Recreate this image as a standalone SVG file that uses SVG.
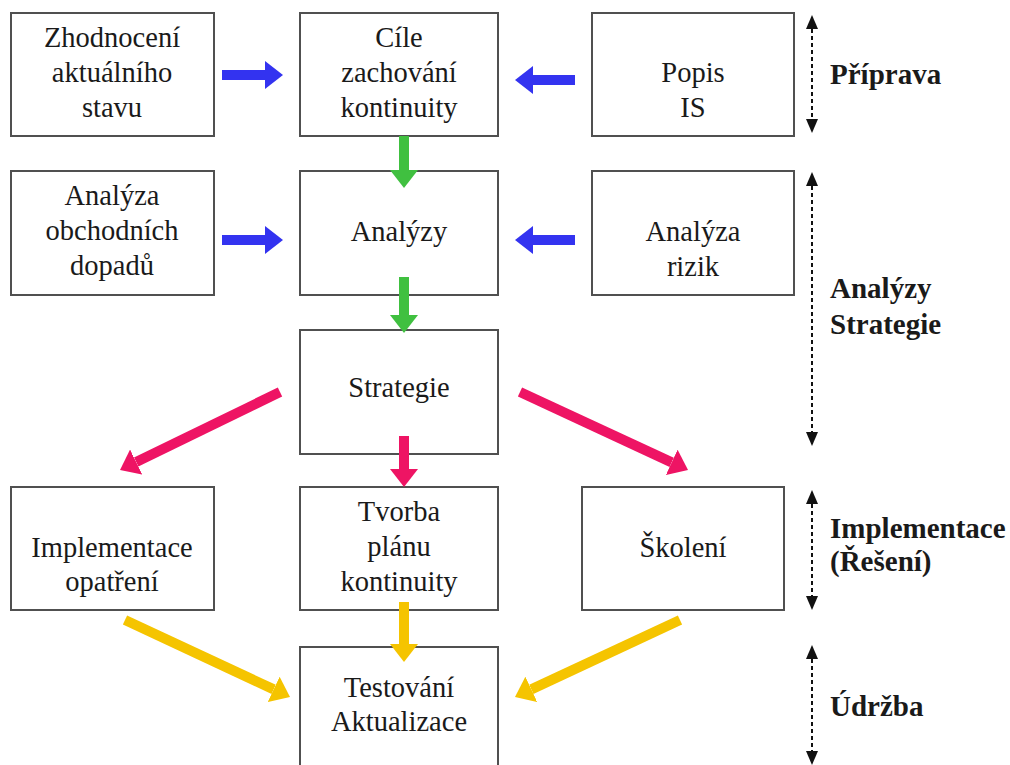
<svg xmlns="http://www.w3.org/2000/svg" width="1010" height="765" viewBox="0 0 1010 765">
<style>
.box{fill:#fff;stroke:#505050;stroke-width:2}
.t{font-family:"Liberation Serif",Tinos,"Times New Roman","DejaVu Serif",serif;font-size:28.5px;fill:#1a1a1a;text-anchor:middle}
.lbl{font-family:"Liberation Serif",Tinos,"Times New Roman","DejaVu Serif",serif;font-size:29px;font-weight:bold;fill:#1a1a1a}
.blue{stroke:#3333f0;stroke-width:10;fill:none}
.green{stroke:#40c040;stroke-width:10;fill:none}
.red{stroke:#ee1464;stroke-width:10;fill:none}
.yel{stroke:#f5c400;stroke-width:10;fill:none}
.dash{stroke:#111;stroke-width:2;stroke-dasharray:4 3;fill:none}
</style>
<defs>
<marker id="hb" markerUnits="userSpaceOnUse" markerWidth="18" markerHeight="28" refX="0" refY="14" orient="auto"><path d="M0,0 L18,14 L0,28 z" fill="#3333f0"/></marker>
<marker id="hg" markerUnits="userSpaceOnUse" markerWidth="18" markerHeight="28" refX="0" refY="14" orient="auto"><path d="M0,0 L18,14 L0,28 z" fill="#40c040"/></marker>
<marker id="hr" markerUnits="userSpaceOnUse" markerWidth="18" markerHeight="28" refX="0" refY="14" orient="auto"><path d="M0,0 L18,14 L0,28 z" fill="#ee1464"/></marker>
<marker id="hy" markerUnits="userSpaceOnUse" markerWidth="18" markerHeight="28" refX="0" refY="14" orient="auto"><path d="M0,0 L18,14 L0,28 z" fill="#f5c400"/></marker>
<marker id="hk" markerUnits="userSpaceOnUse" markerWidth="14" markerHeight="12" refX="0" refY="6" orient="auto-start-reverse"><path d="M0,0 L14,6 L0,12 z" fill="#111"/></marker>
</defs>
<rect width="1010" height="765" fill="#fff"/>

<g id="zhodnoceni"><rect class="box" x="11" y="13" width="203" height="123"/>
<text class="t" x="112" y="47">Zhodnocení</text><text class="t" x="112" y="82">aktuálního</text><text class="t" x="112" y="117">stavu</text></g>
<g id="cile"><rect class="box" x="300" y="13" width="198" height="123"/>
<text class="t" x="399" y="47">Cíle</text><text class="t" x="399" y="82">zachování</text><text class="t" x="399" y="117">kontinuity</text></g>
<g id="popis"><rect class="box" x="592" y="13" width="202" height="123"/>
<text class="t" x="693" y="82">Popis</text><text class="t" x="693" y="117">IS</text></g>

<g id="analyza-obchodnich"><rect class="box" x="11" y="171" width="203" height="124"/>
<text class="t" x="112" y="205">Analýza</text><text class="t" x="112" y="240">obchodních</text><text class="t" x="112" y="275">dopadů</text></g>
<g id="analyzy"><rect class="box" x="300" y="171" width="198" height="124"/>
<text class="t" x="399" y="241">Analýzy</text></g>
<g id="analyza-rizik"><rect class="box" x="592" y="171" width="202" height="124"/>
<text class="t" x="693" y="241">Analýza</text><text class="t" x="693" y="276">rizik</text></g>

<g id="strategie"><rect class="box" x="300" y="330" width="198" height="124"/>
<text class="t" x="399" y="397">Strategie</text></g>

<g id="implementace"><rect class="box" x="11" y="487" width="203" height="123"/>
<text class="t" x="112" y="557">Implementace</text><text class="t" x="112" y="591">opatření</text></g>
<g id="tvorba"><rect class="box" x="300" y="487" width="198" height="123"/>
<text class="t" x="399" y="521">Tvorba</text><text class="t" x="399" y="556">plánu</text><text class="t" x="399" y="591">kontinuity</text></g>
<g id="skoleni"><rect class="box" x="582" y="487" width="202" height="123"/>
<text class="t" x="683" y="557">Školení</text></g>

<g id="testovani"><rect class="box" x="300" y="647" width="198" height="130"/>
<text class="t" x="399" y="697">Testování</text><text class="t" x="399" y="731">Aktualizace</text></g>

<g id="phases">
<text class="lbl" x="830" y="84">Příprava</text>
<text class="lbl" x="830" y="298">Analýzy</text>
<text class="lbl" x="830" y="334">Strategie</text>
<text class="lbl" x="830" y="538">Implementace</text>
<text class="lbl" x="830" y="571">(Řešení)</text>
<text class="lbl" x="830" y="716">Údržba</text>
</g>

<g id="connectors">
<line class="blue" x1="222" y1="75" x2="265" y2="75" marker-end="url(#hb)"/>
<line class="blue" x1="575" y1="80" x2="533" y2="80" marker-end="url(#hb)"/>
<line class="blue" x1="222" y1="240" x2="265" y2="240" marker-end="url(#hb)"/>
<line class="blue" x1="575" y1="240" x2="533" y2="240" marker-end="url(#hb)"/>
<line class="green" x1="404" y1="136" x2="404" y2="170" marker-end="url(#hg)"/>
<line class="green" x1="404" y1="277" x2="404" y2="315" marker-end="url(#hg)"/>
<line class="red" x1="404" y1="436" x2="404" y2="469" marker-end="url(#hr)"/>
<line class="red" x1="280" y1="392" x2="136.2" y2="462.1" marker-end="url(#hr)"/>
<line class="red" x1="520" y1="392" x2="671.7" y2="462.4" marker-end="url(#hr)"/>
<line class="yel" x1="404" y1="602" x2="404" y2="644" marker-end="url(#hy)"/>
<line class="yel" x1="125" y1="620" x2="273.7" y2="689.4" marker-end="url(#hy)"/>
<line class="yel" x1="680" y1="620" x2="531.3" y2="689.4" marker-end="url(#hy)"/>
<line class="dash" x1="812" y1="29" x2="812" y2="119" marker-start="url(#hk)" marker-end="url(#hk)"/>
<line class="dash" x1="812" y1="186" x2="812" y2="432" marker-start="url(#hk)" marker-end="url(#hk)"/>
<line class="dash" x1="812" y1="504" x2="812" y2="596" marker-start="url(#hk)" marker-end="url(#hk)"/>
<line class="dash" x1="812" y1="659" x2="812" y2="751" marker-start="url(#hk)" marker-end="url(#hk)"/>
</g>
</svg>
